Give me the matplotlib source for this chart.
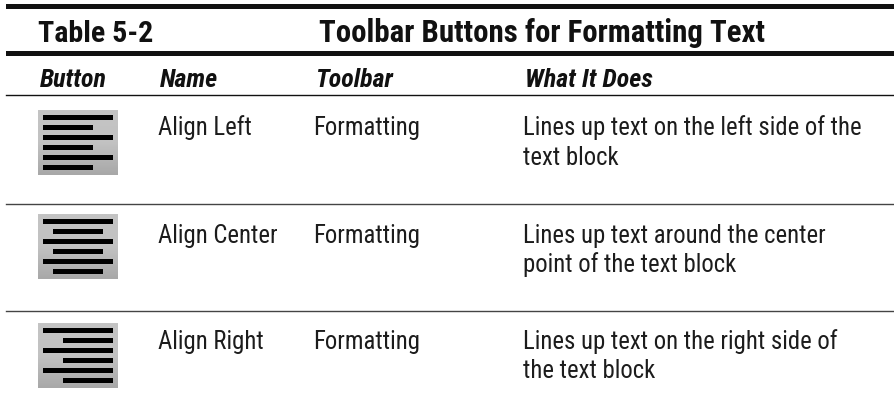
import matplotlib
matplotlib.use("Agg")
import matplotlib.pyplot as plt
import numpy as np
from matplotlib.colors import LinearSegmentedColormap

table_no = "Table 5-2"
title = "Toolbar Buttons for Formatting Text"
headers = ["Button", "Name", "Toolbar", "What It Does"]
names = ["Align Left", "Align Center", "Align Right"]
toolbars = ["Formatting", "Formatting", "Formatting"]
does = [["Lines up text on the left side of the", "text block"],
        ["Lines up text around the center", "point of the text block"],
        ["Lines up text on the right side of", "the text block"]]
aligns = ["left", "center", "right"]

# layout, in pixels of the page
head_x = [40, 160, 315, 525]
col_x = [38, 158, 313, 523]
icon_top = [111, 215, 324]
base_1 = [135, 243, 349]
base_2 = [165, 272, 378]
rule_thin = [204.5, 311.5]

fam = ["Roboto Condensed", "Liberation Sans Narrow", "Roboto"]
ink = "#1c1c1c"

fig = plt.figure(figsize=(8.95, 4.10), dpi=100)
ax = fig.add_axes([0, 0, 1, 1])
ax.axis("off")

# rules
ax.fill_between([6, 895], 4.5, 9.5, color="#111111", lw=0)
ax.fill_between([6, 895], 52, 57, color="#111111", lw=0)
ax.plot([6, 895], [95.5, 95.5], color="#111111", lw=1.0)
for y in rule_thin:
    ax.plot([6, 895], [y, y], color="#444444", lw=1.0)

ax.text(38, 42, table_no, family=fam, fontsize=21.6, fontweight="bold", va="baseline", color="#111111")
ax.text(319, 42, title, family=fam, fontsize=22.2, fontweight="bold", va="baseline", color="#111111")

for x, h in zip(head_x, headers):
    ax.text(x, 87, h, family=fam, fontsize=18.7, fontweight="bold", style="italic", va="baseline", color="#111111")

cm = LinearSegmentedColormap.from_list("g", ["#c4c4c4", "#c2c2c2", "#a8a8a8"])
grad = np.linspace(0, 1, 64).reshape(-1, 1)
for top, b1, b2, al, name, tb, lines in zip(icon_top, base_1, base_2, aligns, names, toolbars, does):
    ax.imshow(grad, extent=[38, 118, top + 65, top], cmap=cm, aspect="auto", zorder=1)
    for i in range(6):
        w = 70 if i % 2 == 0 else 50
        if al == "left":
            x0 = 43
        elif al == "center":
            x0 = 78 - w / 2
        else:
            x0 = 113 - w
        ax.fill_between([x0, x0 + w], top + 5 + i * 10, top + 10 + i * 10, color="black", lw=0, zorder=2)
    ax.text(col_x[1], b1, name, family=fam, fontsize=17.8, va="baseline", color=ink)
    ax.text(col_x[2], b1, tb, family=fam, fontsize=17.8, va="baseline", color=ink)
    ax.text(col_x[3], b1, lines[0], family=fam, fontsize=17.8, va="baseline", color=ink)
    ax.text(col_x[3], b2, lines[1], family=fam, fontsize=17.8, va="baseline", color=ink)

ax.set_xlim(0, 895)
ax.set_ylim(410, 0)
fig.savefig("out.png", dpi=100)
